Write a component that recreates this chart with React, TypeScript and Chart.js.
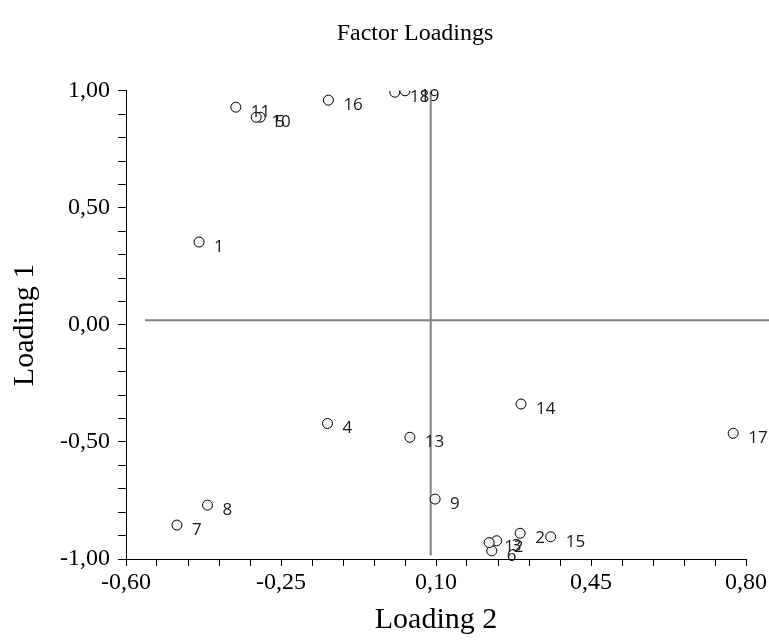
import React, { useEffect, useRef } from "react";
import { Chart, registerables } from "chart.js";

Chart.register(...registerables);

const pointLabels = ["1","2","3","4","5","6","7","8","9","10","11","12","13","14","15","16","17","18","19"];
const loading2 = [-0.435, 0.290, 0.237, -0.145, -0.297, 0.226, -0.485, -0.416, 0.098, -0.306, -0.352, 0.220, 0.041, 0.292, 0.359, -0.143, 0.771, 0.007, 0.030];
const loading1 = [0.354, -0.890, -0.922, -0.421, 0.887, -0.965, -0.855, -0.770, -0.744, 0.887, 0.930, -0.930, -0.480, -0.338, -0.905, 0.960, -0.463, 0.994, 1.000];

// reference lines
const vLineX = [0.088, 0.088];
const vLineY = [1.0, -0.985];
const hLineX = [-0.557, 0.852];
const hLineY = [0.02, 0.02];

const SERIF = '"Liberation Serif", "Times New Roman", serif';
const TITLE_CENTER_X = 415;

function fmt(v: number): string {
  if (Math.abs(v) < 1e-9) v = 0;
  return v.toFixed(2).replace(".", ",");
}

const labelPlugin = {
  id: "pointLabels",
  afterLayout(chart: any) {
    const tb = chart.titleBlock;
    if (tb) {
      tb.left = TITLE_CENTER_X - 200;
      tb.right = TITLE_CENTER_X + 200;
      tb.width = 400;
    }
  },
  afterDatasetsDraw(chart: any) {
    const meta = chart.getDatasetMeta(2);
    const ctx = chart.ctx;
    ctx.save();
    ctx.font = '17px "Open Sans", "DejaVu Sans", sans-serif';
    ctx.fillStyle = "#1a1a1a";
    ctx.textBaseline = "middle";
    ctx.textAlign = "left";
    meta.data.forEach((el: any, i: number) => {
      ctx.fillText(pointLabels[i], el.x + 15, el.y + 5);
    });
    ctx.restore();
  },
};

export default function App() {
  const ref = useRef<HTMLCanvasElement | null>(null);
  useEffect(() => {
    if (!ref.current) return;
    const chart = new Chart(ref.current, {
      type: "scatter",
      data: {
        datasets: [
          {
            type: "line",
            data: vLineX.map((x, i) => ({ x, y: vLineY[i] })),
            borderColor: "#808080",
            borderWidth: 2,
            pointRadius: 0,
            showLine: true,
            clip: false,
            order: 3,
          } as any,
          {
            type: "line",
            data: hLineX.map((x, i) => ({ x, y: hLineY[i] })),
            borderColor: "#808080",
            borderWidth: 2,
            pointRadius: 0,
            showLine: true,
            clip: false,
            order: 2,
          } as any,
          {
            data: loading2.map((x, i) => ({ x, y: loading1[i] })),
            pointRadius: 5,
            pointBorderWidth: 1,
            pointBorderColor: "#000",
            pointBackgroundColor: "#f5f5f5",
            order: 1,
          },
        ],
      },
      options: {
        responsive: false,
        maintainAspectRatio: false,
        animation: false,
        layout: { padding: { left: 0, right: 23, top: 0, bottom: 0 } },
        plugins: {
          legend: { display: false },
          tooltip: { enabled: false },
          title: {
            display: true,
            text: "Factor Loadings",
            fullSize: false,
            color: "#000",
            font: { family: SERIF, size: 24, weight: "normal" },
            padding: { top: 19, bottom: 43 },
          },
        },
        scales: {
          x: {
            type: "linear",
            min: -0.6,
            max: 0.8,
            afterFit: (s: any) => { s.height = 83; },
            border: { display: true, color: "#000", width: 1 },
            grid: { drawOnChartArea: false, drawTicks: true, tickLength: 7, color: "#000" },
            ticks: {
              stepSize: 0.07,
              autoSkip: false,
              maxRotation: 0,
              padding: 2,
              color: "#000",
              font: { family: SERIF, size: 24 },
              callback: (v: any, i: number) => (i % 5 === 0 ? fmt(Number(v)) : ""),
            },
            title: {
              display: true,
              text: "Loading 2",
              color: "#000",
              font: { family: SERIF, size: 30 },
              padding: { top: 0, bottom: 4 },
            },
          },
          y: {
            type: "linear",
            min: -1,
            max: 1,
            afterFit: (s: any) => { s.width = 126; },
            border: { display: true, color: "#000", width: 1 },
            grid: { drawOnChartArea: false, drawTicks: true, tickLength: 8, color: "#000" },
            ticks: {
              stepSize: 0.1,
              autoSkip: false,
              padding: 8,
              color: "#000",
              font: { family: SERIF, size: 24 },
              callback: (v: any, i: number) => (i % 5 === 0 ? fmt(Number(v)) : ""),
            },
            title: {
              display: true,
              text: "Loading 1",
              color: "#000",
              font: { family: SERIF, size: 30 },
              padding: { top: 7, bottom: 0 },
            },
          },
        },
      },
      plugins: [labelPlugin],
    });
    return () => chart.destroy();
  }, []);
  return (
    <div style={{ position: "absolute", left: 0, top: 0, width: 769, height: 642, background: "#fff" }}>
      <canvas ref={ref} width={769} height={642} />
    </div>
  );
}
